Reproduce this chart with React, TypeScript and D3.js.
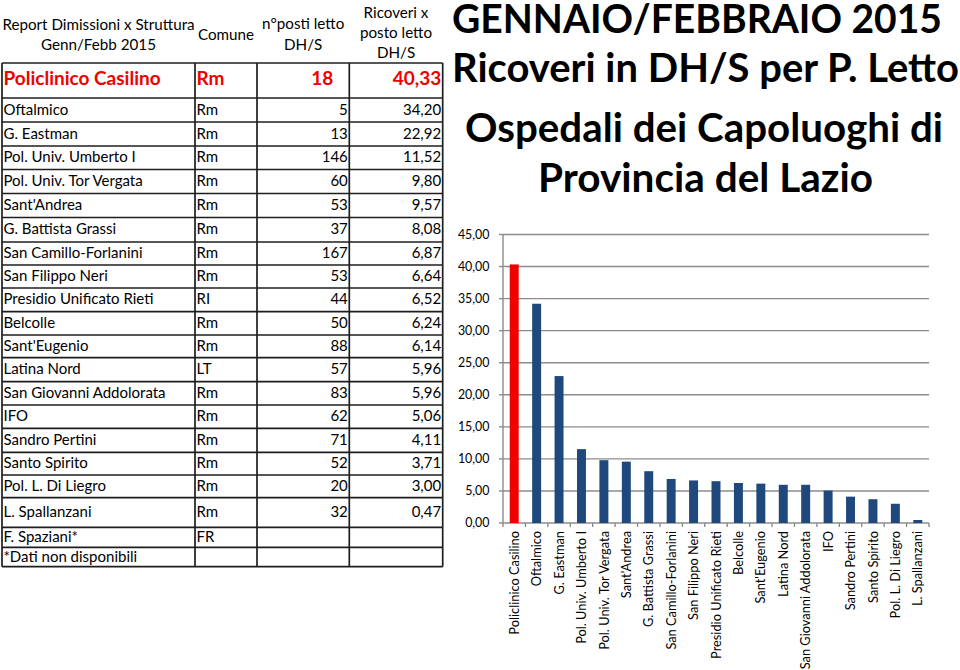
import React from "react";
import * as d3 from "d3";

// ---------- data ----------
const structures = [
  "Policlinico Casilino", "Oftalmico", "G. Eastman", "Pol. Univ. Umberto I",
  "Pol. Univ. Tor Vergata", "Sant'Andrea", "G. Battista Grassi", "San Camillo-Forlanini",
  "San Filippo Neri", "Presidio Unificato Rieti", "Belcolle", "Sant'Eugenio",
  "Latina Nord", "San Giovanni Addolorata", "IFO", "Sandro Pertini",
  "Santo Spirito", "Pol. L. Di Liegro", "L. Spallanzani",
];
const comuni = [
  "Rm", "Rm", "Rm", "Rm", "Rm", "Rm", "Rm", "Rm", "Rm", "RI",
  "Rm", "Rm", "LT", "Rm", "Rm", "Rm", "Rm", "Rm", "Rm",
];
const postiLetto = [18, 5, 13, 146, 60, 53, 37, 167, 53, 44, 50, 88, 57, 83, 62, 71, 52, 20, 32];
const ricoveriPerPosto = [
  40.33, 34.2, 22.92, 11.52, 9.8, 9.57, 8.08, 6.87, 6.64, 6.52,
  6.24, 6.14, 5.96, 5.96, 5.06, 4.11, 3.71, 3.0, 0.47,
];
const extraStructures = ["F. Spaziani*", "*Dati non disponibili"];
const extraComuni = ["FR", ""];
const yTicks = [0, 5, 10, 15, 20, 25, 30, 35, 40, 45];
const titleLines = [
  "GENNAIO/FEBBRAIO 2015",
  "Ricoveri in DH/S per P. Letto",
  "Ospedali dei Capoluoghi di",
  "Provincia del Lazio",
];
const headerCol1 = ["Report Dimissioni x Struttura", "Genn/Febb 2015"];
const headerCol2 = ["Comune"];
const headerCol3 = ["n°posti letto", "DH/S"];
const headerCol4 = ["Ricoveri x", "posto letto", "DH/S"];

// ---------- layout ----------
const W = 960;
const H = 670;
const FONT = "Lato, 'Open Sans', sans-serif";
const RED = "#f00000";
const BLUE = "#1f497d";
const GRID = "#8c8c8c";
const LINE = "#1e1e1e";

const colX = [2, 195, 257, 349.3, 442.7];
const tableTop = 63;
const rowHeights = [35, 24, 24, 23.5, 24, 24, 24.5, 23, 23, 23.7, 23.3, 22.7, 24, 23.3, 23.3, 24, 22.7, 22.7, 29.6, 20, 19.4];

const plot = { left: 503, right: 929, top: 234.5, bottom: 523 };
const titleLayout = [
  { x: 452, w: 490, y: 32.5 },
  { x: 452, w: 507, y: 82 },
  { x: 465, w: 478, y: 142 },
  { x: 538, w: 335, y: 192 },
];

const fmt = (v: number) => d3.format(".2f")(v).replace(".", ",");

export default function App() {
  const x = d3
    .scaleBand<string>()
    .domain(structures)
    .range([plot.left, plot.right])
    .paddingInner(0.6)
    .paddingOuter(0.3);
  const y = d3.scaleLinear().domain([0, 45]).range([plot.bottom, plot.top]);

  const rowBounds: number[] = [tableTop];
  rowHeights.forEach((h) => rowBounds.push(rowBounds[rowBounds.length - 1] + h));
  const tableBottom = rowBounds[rowBounds.length - 1];

  const rows = structures.map((s, i) => ({
    name: s,
    comune: comuni[i],
    posti: String(postiLetto[i]),
    rate: fmt(ricoveriPerPosto[i]),
  }));
  extraStructures.forEach((s, i) =>
    rows.push({ name: s, comune: extraComuni[i], posti: "", rate: "" })
  );

  const step = x.step();
  const boundaries = d3.range(structures.length + 1).map((i) => plot.left + i * step);

  return (
    <svg
      width={W}
      height={H}
      viewBox={`0 0 ${W} ${H}`}
      style={{ position: "absolute", left: 0, top: 0, background: "#fff" }}
      fontFamily={FONT}
    >
      <rect x={0} y={0} width={W} height={H} fill="#fff" />

      {/* ---------- table header ---------- */}
      <g fontSize={15.2} fill="#000" textAnchor="middle">
        {headerCol1.map((t, i) => (
          <text key={"h1" + i} x={(colX[0] + colX[1]) / 2} y={30 + i * 20}>{t}</text>
        ))}
        {headerCol2.map((t, i) => (
          <text key={"h2" + i} x={(colX[1] + colX[2]) / 2} y={40 + i * 20}>{t}</text>
        ))}
        {headerCol3.map((t, i) => (
          <text key={"h3" + i} x={(colX[2] + colX[3]) / 2} y={28.5 + i * 21.5}>{t}</text>
        ))}
        {headerCol4.map((t, i) => (
          <text key={"h4" + i} x={(colX[3] + colX[4]) / 2} y={18.3 + i * 20}>{t}</text>
        ))}
      </g>

      {/* ---------- table body ---------- */}
      <g>
        {rows.map((r, i) => {
          const top = rowBounds[i];
          const h = rowHeights[i];
          const first = i === 0;
          const base = first ? top + 22 : top + h / 2 + 4.5;
          const color = first ? RED : "#000";
          const fs = first ? 19 : 15;
          const fw = first ? 700 : 400;
          return (
            <g key={"r" + i} fill={color} fontSize={fs} fontWeight={fw}>
              <text x={colX[0] + 1.5} y={base}>{r.name}</text>
              <text x={colX[1] + 1.5} y={base}>{r.comune}</text>
              <text x={first ? colX[3] - 16 : colX[3] - 1.5} y={base} textAnchor="end">{r.posti}</text>
              <text x={colX[4] - 1.5} y={base} textAnchor="end">{r.rate}</text>
            </g>
          );
        })}
      </g>

      {/* ---------- table grid ---------- */}
      <g stroke={LINE} strokeWidth={1.7}>
        {rowBounds.map((b, i) => (
          <line key={"hl" + i} x1={colX[0]} x2={colX[4]} y1={b} y2={b} />
        ))}
        {colX.map((c, i) => (
          <line key={"vl" + i} x1={c} x2={c} y1={tableTop} y2={tableBottom} />
        ))}
      </g>

      {/* ---------- titles ---------- */}
      <g fontWeight={700} fontSize={39.5} fill="#000">
        {titleLines.map((t, i) => (
          <text
            key={"t" + i}
            x={titleLayout[i].x}
            y={titleLayout[i].y}
            textLength={titleLayout[i].w}
            lengthAdjust="spacingAndGlyphs"
          >
            {t}
          </text>
        ))}
      </g>

      {/* ---------- chart grid ---------- */}
      <g stroke={GRID} strokeWidth={1.4}>
        {yTicks.filter((t) => t > 0).map((t) => (
          <line key={"g" + t} x1={plot.left} x2={plot.right} y1={y(t)} y2={y(t)} />
        ))}
        {yTicks.map((t) => (
          <line key={"yt" + t} x1={plot.left - 4} x2={plot.left} y1={y(t)} y2={y(t)} />
        ))}
        <line x1={plot.left} x2={plot.left} y1={y(45)} y2={y(0)} />
        <line x1={plot.left} x2={plot.right} y1={y(0)} y2={y(0)} />
        {boundaries.map((b, i) => (
          <line key={"xt" + i} x1={b} x2={b} y1={y(0)} y2={y(0) + 4} />
        ))}
      </g>

      {/* ---------- y tick labels ---------- */}
      <g fontSize={12.4} fill="#000" textAnchor="end">
        {yTicks.map((t) => (
          <text key={"yl" + t} x={489.5} y={y(t)} dy="0.36em">{fmt(t)}</text>
        ))}
      </g>

      {/* ---------- bars ---------- */}
      <g>
        {structures.map((s, i) => (
          <rect
            key={"b" + i}
            x={x(s)}
            y={y(ricoveriPerPosto[i])}
            width={x.bandwidth()}
            height={y(0) - y(ricoveriPerPosto[i])}
            fill={i === 0 ? RED : BLUE}
          />
        ))}
      </g>

      {/* ---------- x labels ---------- */}
      <g fontSize={12.8} fill="#000" textAnchor="end">
        {structures.map((s) => {
          const cx = (x(s) as number) + x.bandwidth() / 2;
          return (
            <text key={"xl" + s} transform={`translate(${cx},531) rotate(-90)`} dy="0.36em">
              {s}
            </text>
          );
        })}
      </g>
    </svg>
  );
}
